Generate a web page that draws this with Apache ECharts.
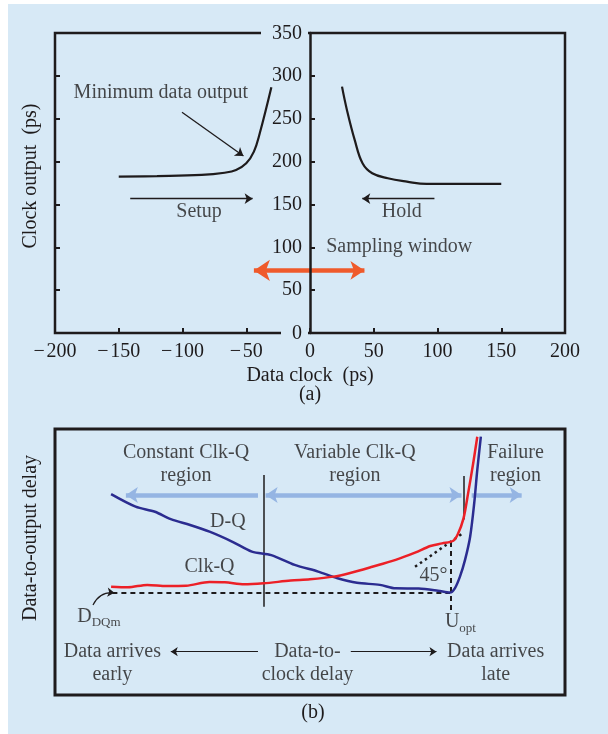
<!DOCTYPE html>
<html>
<head>
<meta charset="utf-8">
<script src="https://cdn.jsdelivr.net/npm/echarts@6/dist/echarts.min.js"></script>
<style>
  html, body { margin: 0; padding: 0; background: #fff; }
  #chart { width: 608px; height: 734px; }
</style>
</head>
<body>
<div id="chart"></div>
<script>
// ---- panel (a): clock output vs data clock (ps) ----
const xTicksA = [-200, -150, -100, -50, 0, 50, 100, 150, 200];
const yTicksA = [0, 50, 100, 150, 200, 250, 300, 350];
const setupCurve = [[-150, 182.4], [-120, 183], [-85, 184.4], [-67, 187], [-58, 190.2], [-50, 198], [-44, 211.6], [-39.4, 233], [-30.3, 286.7]];
const holdCurve = [[25.1, 287.4], [29, 260], [35.1, 225], [41.2, 198], [48.8, 186.3], [61, 180.5], [76, 176.6], [91.4, 173.9], [150, 173.9]];

// ---- panel (b): schematic, arbitrary units 0..100 ----
const dqCurve = [[11.0, 75.5], [15.8, 70.8], [19.6, 68.9], [22.7, 66.1], [26.5, 63.9], [30.3, 61.4], [34.8, 57.6], [38.6, 53.9], [42.4, 52.6], [47.0, 48.9], [51.6, 46.4], [55.4, 43.9], [59.2, 42.2], [63.7, 41.4], [66.8, 40.1], [71.3, 40.0], [75.1, 39.2], [77.45, 38.5], [78.4, 40.1], [79.4, 44.5], [80.4, 50.8], [81.4, 59.5], [82.2, 72.1], [82.8, 84.6], [83.5, 97.1]];
const clkqCurve = [[11.0, 40.7], [14.3, 40.5], [18.1, 41.4], [21.9, 41.0], [25.7, 41.1], [30.3, 42.5], [33.3, 42.4], [37.1, 41.6], [40.9, 42.0], [46.2, 43.0], [50.0, 43.5], [54.6, 44.5], [57.7, 45.8], [62.2, 48.2], [66.8, 50.8], [70.6, 53.5], [73.6, 56.0], [75.9, 57.0], [78.1, 58.0], [79.0, 60.5], [80.1, 66.4], [81.0, 75.8], [82.0, 87.1], [82.8, 97.1]];

const BG = '#d7e9f6';
const INK = '#1e1b1c';
const FONT = '"Liberation Serif", "DejaVu Serif", serif';
const FS = 20;

const chart = echarts.init(document.getElementById('chart'));

const txt = (extra) => Object.assign({ show: true, position: 'inside', color: INK, fontFamily: FONT, fontSize: FS, lineHeight: 23, align: 'center', verticalAlign: 'middle' }, extra || {});
const labelPoint = (x, y, text) => ({ value: [x, y], label: { formatter: text } });

const option = {
  backgroundColor: '#fff',
  animation: false,
  graphic: [
    { type: 'rect', z: -10, shape: { x: 8, y: 4, width: 600, height: 730 }, style: { fill: BG } },
    { type: 'text', x: 310, y: 395, style: { text: '(a)', fill: INK, font: FS + 'px ' + FONT, textAlign: 'center', textVerticalAlign: 'middle' } },
    { type: 'text', x: 313, y: 713, style: { text: '(b)', fill: INK, font: FS + 'px ' + FONT, textAlign: 'center', textVerticalAlign: 'middle' } }
  ],
  grid: [
    { left: 55, top: 33, width: 510, height: 300, show: true, borderColor: INK, borderWidth: 2.5 },
    { left: 55, top: 429, width: 510, height: 266, show: true, borderColor: INK, borderWidth: 3 }
  ],
  xAxis: [
    {
      gridIndex: 0, type: 'value', min: xTicksA[0], max: xTicksA[xTicksA.length - 1], interval: 50, z: 6,
      axisLine: { show: false, onZero: false },
      axisTick: { inside: true, length: 5, lineStyle: { color: INK, width: 2 } },
      splitLine: { show: false },
      axisLabel: { margin: 9, color: INK, fontFamily: FONT, fontSize: FS, formatter: v => (v < 0 ? '\u2212\u200a' + Math.abs(v) : String(v)) },
      name: 'Data clock  (ps)', nameLocation: 'middle', nameGap: 33,
      nameTextStyle: { color: INK, fontFamily: FONT, fontSize: FS }
    },
    { gridIndex: 1, type: 'value', min: 0, max: 100, show: false }
  ],
  yAxis: [
    {
      // middle axis at data clock = 0 (half of the 510px grid width)
      gridIndex: 0, type: 'value', min: yTicksA[0], max: yTicksA[yTicksA.length - 1], interval: 50, z: 5,
      position: 'left', offset: -255,
      axisLine: { onZero: false, lineStyle: { color: INK, width: 2.5 } },
      axisTick: { inside: true, length: 5, lineStyle: { color: INK, width: 2 } },
      splitLine: { show: false },
      axisLabel: {
        margin: 2,
        formatter: v => (v === 0 || v === 350 ? '{g|' + v + '}' : '{n|' + v + '}'),
        rich: {
          n: { color: INK, fontFamily: FONT, fontSize: FS, padding: [0, 6, 0, 0] },
          g: { color: INK, fontFamily: FONT, fontSize: FS, padding: [2, 6, 0, 11], backgroundColor: BG }
        }
      }
    },
    {
      gridIndex: 0, type: 'value', min: yTicksA[0], max: yTicksA[yTicksA.length - 1], interval: 50, position: 'left',
      axisLine: { show: false, onZero: false },
      axisTick: { inside: true, length: 5, lineStyle: { color: INK, width: 2 } },
      axisLabel: { show: false }, splitLine: { show: false },
      name: 'Clock output  (ps)', nameLocation: 'middle', nameGap: 14, nameRotate: 90,
      nameTextStyle: { color: INK, fontFamily: FONT, fontSize: FS, padding: [0, 0, 0, 14] }
    },
    {
      gridIndex: 1, type: 'value', min: 0, max: 100, position: 'left',
      axisLine: { show: false, onZero: false }, axisTick: { show: false }, axisLabel: { show: false }, splitLine: { show: false },
      name: 'Data-to-output delay', nameLocation: 'middle', nameGap: 14, nameRotate: 90,
      nameTextStyle: { color: INK, fontFamily: FONT, fontSize: FS, padding: [0, 0, 0, 48] }
    }
  ],
  series: [
    // (a) curves
    { type: 'line', xAxisIndex: 0, yAxisIndex: 0, data: setupCurve, smooth: 0.4, symbol: 'none', lineStyle: { color: INK, width: 2.2 } },
    { type: 'line', xAxisIndex: 0, yAxisIndex: 0, data: holdCurve, smooth: 0.4, symbol: 'none', lineStyle: { color: INK, width: 2.2 } },
    // (a) thin black arrows: setup, hold, pointer
    {
      type: 'lines', coordinateSystem: 'cartesian2d', xAxisIndex: 0, yAxisIndex: 0,
      symbol: ['none', 'arrow'], symbolSize: 8, lineStyle: { color: INK, width: 1.3, opacity: 1 },
      data: [
        { coords: [[-141, 156.7], [-45, 156.7]] },
        { coords: [[97.6, 156.7], [41, 156.7]] },
        { coords: [[-100.4, 257.5], [-52.2, 206.5]] }
      ]
    },
    // (a) sampling window double arrow
    {
      type: 'lines', coordinateSystem: 'cartesian2d', xAxisIndex: 0, yAxisIndex: 0,
      symbol: ['arrow', 'arrow'], symbolSize: [16, 14], lineStyle: { color: '#ef5a2b', width: 4.5, opacity: 1 },
      data: [{ coords: [[-44, 73], [42.7, 73]] }]
    },
    // (a) annotations
    {
      type: 'scatter', xAxisIndex: 0, yAxisIndex: 0, symbolSize: 0, label: txt(), z: 6,
      data: [
        labelPoint(-117, 280, 'Minimum data output'),
        labelPoint(-87, 141, 'Setup'),
        labelPoint(72, 141, 'Hold'),
        labelPoint(70, 100.7, 'Sampling window')
      ]
    },
    // (b) curves
    { type: 'line', xAxisIndex: 1, yAxisIndex: 2, data: dqCurve, smooth: 0.3, symbol: 'none', lineStyle: { color: '#2b2c90', width: 2.5 } },
    { type: 'line', xAxisIndex: 1, yAxisIndex: 2, data: clkqCurve, smooth: 0.3, symbol: 'none', lineStyle: { color: '#ec2027', width: 2.5 } },
    // (b) dashed guides
    {
      type: 'lines', coordinateSystem: 'cartesian2d', xAxisIndex: 1, yAxisIndex: 2,
      lineStyle: { color: INK, width: 2, type: [5, 4], opacity: 1 },
      data: [
        { coords: [[11.25, 38.46], [77.45, 38.46]] },
        { coords: [[77.65, 57.5], [77.65, 31.95]] }
      ]
    },
    // (b) dotted 45 degree line
    {
      type: 'lines', coordinateSystem: 'cartesian2d', xAxisIndex: 1, yAxisIndex: 2,
      lineStyle: { color: INK, width: 2.5, type: [2.5, 3.5], opacity: 1 },
      data: [{ coords: [[70.6, 48.2], [80.1, 61.0]] }]
    },
    // (b) region dividers
    {
      type: 'lines', coordinateSystem: 'cartesian2d', xAxisIndex: 1, yAxisIndex: 2,
      lineStyle: { color: INK, width: 1.5, opacity: 1 },
      data: [
        { coords: [[40.92, 82.7], [40.92, 33.2]] },
        { coords: [[80.06, 82.3], [80.06, 66.0]] }
      ]
    },
    // (b) region arrows
    {
      type: 'lines', coordinateSystem: 'cartesian2d', xAxisIndex: 1, yAxisIndex: 2,
      symbol: ['arrow', 'arrow'], symbolSize: [12, 12], lineStyle: { color: '#95b5e3', width: 4.5, opacity: 1 },
      data: [{ coords: [[41.3, 75.2], [79.7, 75.2]] }]
    },
    {
      type: 'lines', coordinateSystem: 'cartesian2d', xAxisIndex: 1, yAxisIndex: 2,
      symbol: ['none', 'arrow'], symbolSize: [12, 12], lineStyle: { color: '#95b5e3', width: 4.5, opacity: 1 },
      data: [
        { coords: [[39.8, 75.2], [13.9, 75.2]] },
        { coords: [[81.7, 75.2], [91.5, 75.2]] }
      ]
    },
    // (b) bottom delay arrows
    {
      type: 'lines', coordinateSystem: 'cartesian2d', xAxisIndex: 1, yAxisIndex: 2,
      symbol: ['none', 'arrow'], symbolSize: 7, lineStyle: { color: INK, width: 1.2, opacity: 1 },
      data: [
        { coords: [[39.8, 16.3], [22.7, 16.3]] },
        { coords: [[58.0, 16.3], [74.8, 16.3]] }
      ]
    },
    // (b) curved pointer from D_DQm
    {
      type: 'lines', coordinateSystem: 'cartesian2d', xAxisIndex: 1, yAxisIndex: 2,
      symbol: ['none', 'arrow'], symbolSize: 7, lineStyle: { color: INK, width: 1.2, curveness: 0.35, opacity: 1 },
      data: [{ coords: [[7.45, 33.8], [11.65, 38.46]] }]
    },
    // (b) annotations
    {
      type: 'scatter', xAxisIndex: 1, yAxisIndex: 2, symbolSize: 0, label: txt(), z: 6,
      data: [
        labelPoint(25.7, 86.7, 'Constant Clk-Q\nregion'),
        labelPoint(58.8, 86.7, 'Variable Clk-Q\nregion'),
        labelPoint(90.3, 86.7, 'Failure\nregion'),
        labelPoint(33.9, 65.2, 'D-Q'),
        labelPoint(30.3, 48.2, 'Clk-Q'),
        labelPoint(74.2, 44.7, '45\u00b0'),
        labelPoint(11.25, 11.9, 'Data arrives\nearly'),
        labelPoint(49.5, 11.9, 'Data-to-\nclock delay'),
        labelPoint(86.4, 11.9, 'Data arrives\nlate')
      ]
    },
    {
      type: 'scatter', xAxisIndex: 1, yAxisIndex: 2, symbolSize: 0, z: 6,
      label: txt({
        lineHeight: null,
        rich: {
          m: { color: INK, fontFamily: FONT, fontSize: FS, lineHeight: 26 },
          s: { color: INK, fontFamily: FONT, fontSize: 13, lineHeight: 12, verticalAlign: 'bottom' }
        }
      }),
      data: [
        labelPoint(8.6, 29.5, '{m|D}{s|DQm}'),
        labelPoint(79.5, 27.6, '{m|U}{s|opt}')
      ]
    }
  ]
};

chart.setOption(option);
</script>
</body>
</html>
